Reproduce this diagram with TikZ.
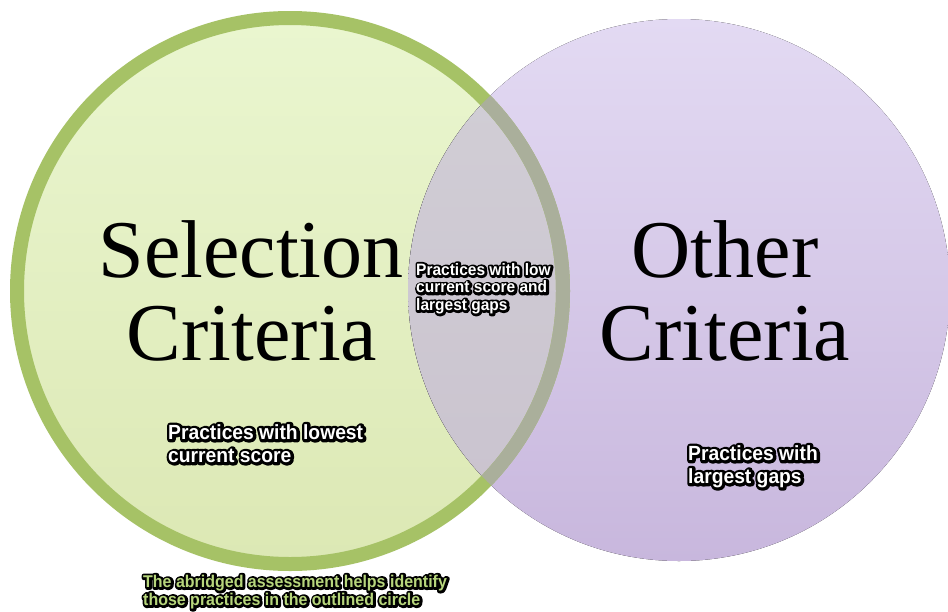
\documentclass[tikz,border=0pt]{standalone}
\usepackage{fontspec}
\setmainfont{Liberation Serif}
% label face and a thickened copy of it for the dark halo
\newfontfamily\labelfont{Liberation Sans Bold}[FakeStretch=0.94]
\newfontfamily\halofont{Liberation Sans Bold}[FakeStretch=0.94, FakeBold=28]

\definecolor{greenTop}{HTML}{EAF6D0}
\definecolor{greenBot}{HTML}{DCE8B4}
\definecolor{greenRing}{HTML}{A6C266}
\definecolor{purpleTop}{HTML}{E3DAF3}
\definecolor{purpleBot}{HTML}{C8B7DD}
\definecolor{mixTop}{HTML}{D2CFD6}
\definecolor{mixBot}{HTML}{C9C2CE}
\definecolor{mixRing}{HTML}{AAAF9B}
\definecolor{noteGreen}{HTML}{B7D67C}

\tikzset{
  bigword/.style={font=\fontsize{82}{83}\selectfont, anchor=base, inner sep=0pt},
  note/.style={align=left, anchor=base west, inner sep=0pt},
  halo/.style={note, text=black, line join=round, miter limit=1},
}

\begin{document}
\begin{tikzpicture}[x=1pt, y=-1pt, line join=round, miter limit=1]
  \useasboundingbox (0,0) rectangle (948,611);
  \fill[white] (0,0) rectangle (948,611);

  % circle centres
  \coordinate (gc) at (290,291);
  \coordinate (pc) at (679,290);

  % the two discs
  \fill[top color=greenTop, bottom color=greenBot] (gc) circle (273pt);
  \fill[top color=purpleTop, bottom color=purpleBot] (pc) circle (271pt);

  % the overlap, tinted grey
  \begin{scope}
    \clip (pc) circle (271pt);
    \fill[top color=mixTop, bottom color=mixBot] (gc) circle (273pt);
  \end{scope}

  % outline of the selection circle, greyed where it crosses the other disc
  \draw[greenRing, line width=14pt] (gc) circle (273pt);
  \begin{scope}
    \clip (pc) circle (271pt);
    \draw[mixRing, line width=14pt] (gc) circle (273pt);
  \end{scope}

  % headings
  \node[bigword] (sel1) at (251,277) {Selection};
  \node[bigword] (sel2) at (252,360) {Criteria};
  \node[bigword] (oth1) at (725,277) {Other};
  \node[bigword] (oth2) at (725,360) {Criteria};

  % notes: dark halo first, light text on top
  \node[halo, font=\halofont\fontsize{16.5}{17.5}\selectfont] (midh) at (416.6,310.6)
    {Practices with low\\current score and\\largest gaps};
  \node[note, text=white, font=\labelfont\fontsize{16.5}{17.5}\selectfont] (mid) at (416,310)
    {Practices with low\\current score and\\largest gaps};

  \node[halo, font=\halofont\fontsize{20.5}{23}\selectfont] (lowh) at (168.6,462.6)
    {Practices with lowest\\current score};
  \node[note, text=white, font=\labelfont\fontsize{20.5}{23}\selectfont] (low) at (168,462)
    {Practices with lowest\\current score};

  \node[halo, font=\halofont\fontsize{20.5}{23}\selectfont] (gapsh) at (688.6,483.6)
    {Practices with\\largest gaps};
  \node[note, text=white, font=\labelfont\fontsize{20.5}{23}\selectfont] (gaps) at (688,483)
    {Practices with\\largest gaps};

  \node[halo, font=\halofont\fontsize{17}{18}\selectfont] (abrh) at (143.6,605.6)
    {The abridged assessment helps identify\\those practices in the outlined circle};
  \node[note, text=noteGreen, font=\labelfont\fontsize{17}{18}\selectfont] (abr) at (143,605)
    {The abridged assessment helps identify\\those practices in the outlined circle};
\end{tikzpicture}
\end{document}
